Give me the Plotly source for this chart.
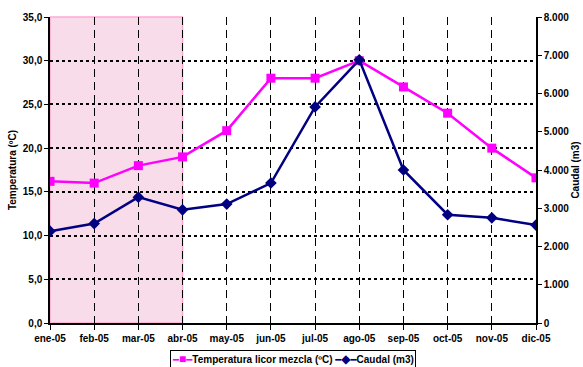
import plotly.graph_objects as go

months = ["ene-05", "feb-05", "mar-05", "abr-05", "may-05", "jun-05",
          "jul-05", "ago-05", "sep-05", "oct-05", "nov-05", "dic-05"]
temperatura = [16.2, 16.0, 18.0, 19.0, 22.0, 28.0, 28.0, 30.0, 27.0, 24.0, 20.0, 16.6]
caudal = [2400, 2600, 3290, 2960, 3110, 3660, 5650, 6880, 4000, 2830, 2750, 2560]
shaded_months = ["ene-05", "abr-05"]
series_names = ["Temperatura licor mezcla (ºC)", "Caudal (m3)"]
series_colors = ["#ff00ff", "#000080"]

font = dict(family="Arial, Liberation Sans, sans-serif", size=10, color="black")

fig = go.Figure()
fig.add_trace(go.Scatter(
    x=months, y=temperatura, name=series_names[0],
    mode="lines+markers",
    line=dict(color=series_colors[0], width=2.5),
    marker=dict(symbol="square", size=9, color=series_colors[0]),
))
fig.add_trace(go.Scatter(
    x=months, y=caudal, name=series_names[1], yaxis="y2",
    mode="lines+markers",
    line=dict(color=series_colors[1], width=2.5),
    marker=dict(symbol="diamond", size=9, color=series_colors[1]),
))

i0 = months.index(shaded_months[0])
i1 = months.index(shaded_months[1])
fig.add_shape(type="rect", xref="x", yref="paper", x0=i0, x1=i1, y0=0, y1=1,
              fillcolor="#f8dcea", line=dict(color="#ffa8d8", width=1.5),
              layer="below")

# compact legend box as text
legend_text = (
    f'<span style="color:{series_colors[0]}">━<span style="font-size:12px">■</span>━</span>'
    f'<b>{series_names[0]}</b> '
    f'<span style="color:{series_colors[1]}">━<span style="font-size:12px">◆</span>━</span>'
    f'<b>{series_names[1]}</b>'
)
fig.add_annotation(
    text=legend_text, xref="paper", yref="paper", x=0.499, y=-0.118,
    xanchor="center", yanchor="middle", showarrow=False,
    font=dict(family="Arial, Liberation Sans, DejaVu Sans, sans-serif", size=10, color="black"),
    bordercolor="black", borderwidth=1, borderpad=1, bgcolor="white",
)

fig.update_layout(
    width=583, height=367,
    margin=dict(l=50, r=47, t=17, b=44, autoexpand=False),
    paper_bgcolor="white", plot_bgcolor="white",
    font=font,
    separators=",.",
    showlegend=False,
    xaxis=dict(
        type="category", range=[0, 11],
        showgrid=True, gridcolor="black", griddash="8px,5px", gridwidth=1,
        showline=True, linecolor="black", linewidth=1.5,
        ticks="outside", ticklen=5, tickcolor="black",
        tickfont=dict(size=10, color="black"),
        zeroline=False,
    ),
    yaxis=dict(
        range=[0, 35], dtick=5, tickformat=".1f",
        showgrid=True, gridcolor="black", griddash="dot", gridwidth=1.5,
        showline=True, linecolor="black", linewidth=1.5,
        ticks="outside", ticklen=4, tickcolor="black",
        title=dict(text="<b>Temperatura (ºC)</b>", font=dict(size=10), standoff=4),
        zeroline=False,
    ),
    yaxis2=dict(
        range=[0, 8000], dtick=1000, tickformat=",d",
        overlaying="y", side="right",
        showgrid=False,
        showline=True, linecolor="black", linewidth=1.5,
        ticks="outside", ticklen=4, tickcolor="black",
        title=dict(text="<b>Caudal (m3)</b>", font=dict(size=10), standoff=4),
        zeroline=False,
    ),
)
fig.update_xaxes(tickprefix="<b>", ticksuffix="</b>")
fig.update_yaxes(tickprefix="<b>", ticksuffix="</b>")

fig.write_html("out.html")
